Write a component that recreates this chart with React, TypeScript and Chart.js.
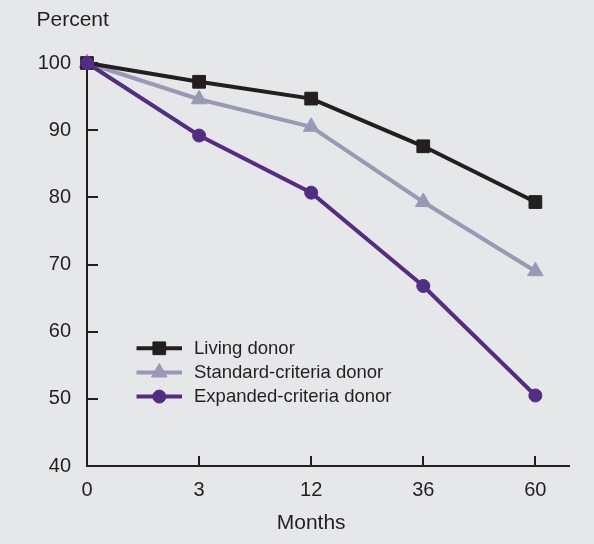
import React, { useEffect, useRef } from "react";
import { Chart, registerables } from "chart.js";

Chart.register(...registerables);

const months: string[] = ["0", "3", "12", "36", "60"];
const livingDonor: number[] = [100, 97.2, 94.7, 87.6, 79.3];
const standardCriteria: number[] = [100, 94.6, 90.5, 79.3, 69.0];
const expandedCriteria: number[] = [100, 89.2, 80.7, 66.8, 50.5];
const yTicks: number[] = [40, 50, 60, 70, 80, 90, 100];

const seriesNames = ["Living donor", "Standard-criteria donor", "Expanded-criteria donor"];

const INK = "#231f20";
const GRAY = "#9b98b5";
const PURPLE = "#532d84";
const BG = "#e6e7e9";
const FONT = "'Liberation Sans', Arial, Helvetica, sans-serif";

const toPoints = (vals: number[]) => vals.map((y, i) => ({ x: i, y }));

function drawPointShape(ctx: CanvasRenderingContext2D, style: string, r: number, x: number, y: number) {
  ctx.beginPath();
  if (style === "rect") {
    const s = Math.SQRT1_2 * r;
    ctx.rect(x - s, y - s, 2 * s, 2 * s);
  } else if (style === "triangle") {
    let rad = 0;
    ctx.moveTo(x + Math.sin(rad) * r, y - Math.cos(rad) * r);
    rad += (2 * Math.PI) / 3;
    ctx.lineTo(x + Math.sin(rad) * r, y - Math.cos(rad) * r);
    rad += (2 * Math.PI) / 3;
    ctx.lineTo(x + Math.sin(rad) * r, y - Math.cos(rad) * r);
    ctx.closePath();
  } else {
    ctx.arc(x, y, r, 0, Math.PI * 2);
  }
  ctx.fill();
  ctx.stroke();
}

export default function App() {
  const ref = useRef<HTMLCanvasElement | null>(null);

  useEffect(() => {
    document.body.style.margin = "0";
    document.body.style.background = BG;
    const canvas = ref.current;
    if (!canvas) return;

    const bgPlugin = {
      id: "bg",
      beforeDraw(chart: any) {
        const { ctx, width, height } = chart;
        ctx.save();
        ctx.fillStyle = BG;
        ctx.fillRect(0, 0, width, height);
        ctx.restore();
      },
    };

    // inward tick marks, placed by the library's scales
    const innerTicksPlugin = {
      id: "innerTicks",
      beforeDatasetsDraw(chart: any) {
        const { ctx, chartArea } = chart;
        const xs = chart.scales.x;
        const ys = chart.scales.y;
        ctx.save();
        ctx.strokeStyle = INK;
        ctx.lineWidth = 2;
        ctx.beginPath();
        xs.ticks.forEach((t: any) => {
          const px = Math.round(xs.getPixelForValue(t.value));
          ctx.moveTo(px, chartArea.bottom);
          ctx.lineTo(px, chartArea.bottom - 10);
        });
        ys.ticks.forEach((t: any) => {
          const py = Math.round(ys.getPixelForValue(t.value));
          ctx.moveTo(chartArea.left, py);
          ctx.lineTo(chartArea.left + 11, py);
        });
        ctx.stroke();
        ctx.restore();
      },
    };

    const textPlugin = {
      id: "texts",
      afterDraw(chart: any) {
        const { ctx } = chart;
        const xs = chart.scales.x;
        ctx.save();
        ctx.fillStyle = INK;
        ctx.textBaseline = "alphabetic";
        ctx.font = `21px ${FONT}`;
        ctx.textAlign = "left";
        ctx.fillText("Percent", 36.5, 26);
        ctx.textAlign = "center";
        const cx = (xs.getPixelForValue(0) + xs.getPixelForValue(months.length - 1)) / 2;
        ctx.fillText("Months", cx, 529);

        const ds = chart.data.datasets;
        const rows = [348.3, 372.5, 396.6];
        ds.forEach((d: any, i: number) => {
          const y = rows[i];
          ctx.strokeStyle = d.borderColor;
          ctx.lineWidth = d.borderWidth;
          ctx.beginPath();
          ctx.moveTo(136.5, y);
          ctx.lineTo(182, y);
          ctx.stroke();
          ctx.fillStyle = d.pointBackgroundColor;
          ctx.strokeStyle = d.pointBorderColor;
          ctx.lineWidth = d.pointBorderWidth;
          drawPointShape(ctx, d.pointStyle, d.pointRadius, 159.3, y);
          ctx.fillStyle = INK;
          ctx.font = `18.5px ${FONT}`;
          ctx.textAlign = "left";
          ctx.textBaseline = "middle";
          ctx.fillText(d.label, 194, y + 0.5);
        });
        ctx.restore();
      },
    };

    const chart = new Chart(canvas, {
      type: "line",
      data: {
        datasets: [
          {
            label: seriesNames[0],
            data: toPoints(livingDonor),
            borderColor: INK,
            backgroundColor: INK,
            borderWidth: 4,
            pointStyle: "rect",
            pointRadius: 9,
            pointBackgroundColor: INK,
            pointBorderColor: INK,
            pointBorderWidth: 1,
            clip: false,
            order: 1,
          },
          {
            label: seriesNames[1],
            data: toPoints(standardCriteria),
            borderColor: GRAY,
            backgroundColor: GRAY,
            borderWidth: 4,
            pointStyle: "triangle",
            pointRadius: 9,
            pointBackgroundColor: GRAY,
            pointBorderColor: GRAY,
            pointBorderWidth: 1,
            clip: false,
            order: 2,
          },
          {
            label: seriesNames[2],
            data: toPoints(expandedCriteria),
            borderColor: PURPLE,
            backgroundColor: PURPLE,
            borderWidth: 4,
            pointStyle: "circle",
            pointRadius: 6.5,
            pointBackgroundColor: PURPLE,
            pointBorderColor: PURPLE,
            pointBorderWidth: 1,
            clip: false,
            order: 0,
          },
        ] as any,
      },
      options: {
        animation: false,
        responsive: false,
        devicePixelRatio: 1,
        layout: { padding: { left: 0, right: 25, top: 63, bottom: 0 } },
        plugins: {
          legend: { display: false },
          tooltip: { enabled: false },
          title: { display: false },
        },
        elements: { line: { tension: 0 } },
        scales: {
          x: {
            type: "linear",
            min: 0,
            max: 4.3,
            afterBuildTicks: (scale: any) => {
              scale.ticks = months.map((_, i) => ({ value: i }));
            },
            afterFit: (scale: any) => {
              scale.height = 78;
            },
            border: { display: true, color: INK, width: 2 },
            grid: { drawOnChartArea: false, drawTicks: false },
            ticks: {
              padding: 12,
              color: INK,
              font: { family: FONT, size: 20 },
              maxRotation: 0,
              autoSkip: false,
              callback: (v: any) => months[Number(v)] ?? "",
            },
          },
          y: {
            type: "linear",
            min: 40,
            max: 100,
            afterBuildTicks: (scale: any) => {
              scale.ticks = yTicks.map((v) => ({ value: v }));
            },
            afterFit: (scale: any) => {
              scale.width = 87;
            },
            border: { display: true, color: INK, width: 2 },
            grid: { drawOnChartArea: false, drawTicks: false },
            ticks: {
              padding: 16,
              color: INK,
              font: { family: FONT, size: 20 },
              callback: (v: any) => String(v),
            },
          },
        },
      } as any,
      plugins: [bgPlugin, innerTicksPlugin, textPlugin],
    });

    return () => chart.destroy();
  }, []);

  return (
    <div style={{ width: 594, height: 544, background: BG }}>
      <canvas ref={ref} width={594} height={544} style={{ display: "block", width: 594, height: 544 }} />
    </div>
  );
}
